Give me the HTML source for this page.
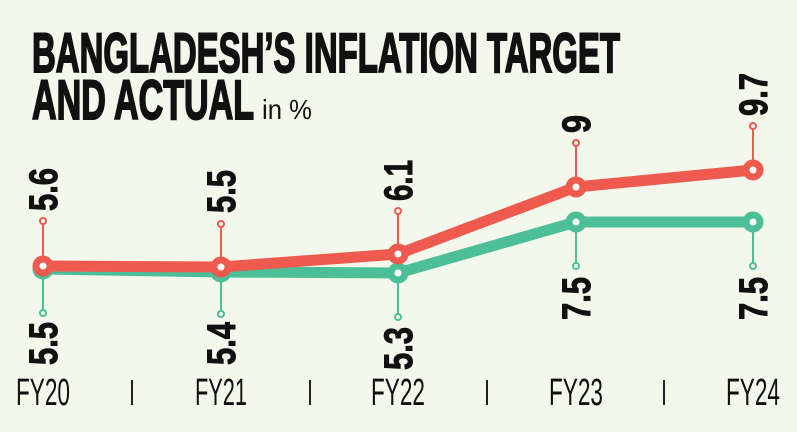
<!DOCTYPE html>
<html><head><meta charset="utf-8"><style>
html,body{margin:0;padding:0;background:#f3f7ec;}
svg{display:block}
</style></head><body>
<svg width="797" height="432" viewBox="0 0 797 432" xmlns="http://www.w3.org/2000/svg">
<rect width="797" height="432" fill="#f3f7ec"/>
<g font-family="Liberation Sans, sans-serif" font-weight="bold" fill="#111" stroke="#111" stroke-width="2">
<text x="32" y="72" font-size="56" textLength="588" lengthAdjust="spacingAndGlyphs">BANGLADESH’S INFLATION TARGET</text>
<text x="32" y="119" font-size="56" textLength="222" lengthAdjust="spacingAndGlyphs">AND ACTUAL</text>
</g>
<text x="262" y="119" font-family="Liberation Sans, sans-serif" font-size="28" fill="#111" textLength="50" lengthAdjust="spacingAndGlyphs">in %</text>

<g stroke-width="2" fill="#f3f7ec">
<g stroke="#ef5a4e">
<line x1="43" y1="266" x2="43" y2="221"/><circle cx="43" cy="221" r="3"/>
<line x1="221" y1="267" x2="221" y2="224"/><circle cx="221" cy="224" r="3"/>
<line x1="398" y1="254" x2="398" y2="211"/><circle cx="398" cy="211" r="3"/>
<line x1="576" y1="187" x2="576" y2="143"/><circle cx="576" cy="143" r="3"/>
<line x1="753" y1="170" x2="753" y2="126"/><circle cx="753" cy="126" r="3"/>
</g>
<g stroke="#4cbf98">
<line x1="43" y1="269" x2="43" y2="313"/><circle cx="43" cy="313" r="3"/>
<line x1="221" y1="272" x2="221" y2="314"/><circle cx="221" cy="314" r="3"/>
<line x1="398" y1="273" x2="398" y2="317"/><circle cx="398" cy="317" r="3"/>
<line x1="576" y1="222" x2="576" y2="266"/><circle cx="576" cy="266" r="3"/>
<line x1="753" y1="222" x2="753" y2="266"/><circle cx="753" cy="266" r="3"/>
</g>
</g>

<polyline points="43,269 221,272 398,273 576,222 753,222" fill="none" stroke="#4cbf98" stroke-width="11" stroke-linejoin="round"/>
<g fill="#fff" stroke="#4cbf98" stroke-width="7">
<circle cx="43" cy="269" r="7"/><circle cx="221" cy="272" r="7"/><circle cx="398" cy="273" r="7"/><circle cx="576" cy="222" r="7"/><circle cx="753" cy="222" r="7"/>
</g>
<polyline points="43,266 221,267 398,254 576,187 753,170" fill="none" stroke="#ef5a4e" stroke-width="11" stroke-linejoin="round"/>
<g fill="#fff" stroke="#ef5a4e" stroke-width="7">
<circle cx="43" cy="266" r="7"/><circle cx="221" cy="267" r="7"/><circle cx="398" cy="254" r="7"/><circle cx="576" cy="187" r="7"/><circle cx="753" cy="170" r="7"/>
</g>

<g font-family="Liberation Sans, sans-serif" font-weight="bold" font-size="40" fill="#111" stroke="#111" stroke-width="1">
<text transform="translate(57,211) rotate(-90)" textLength="43" lengthAdjust="spacingAndGlyphs">5.6</text>
<text transform="translate(235,213) rotate(-90)" textLength="43" lengthAdjust="spacingAndGlyphs">5.5</text>
<text transform="translate(412,201) rotate(-90)" textLength="41" lengthAdjust="spacingAndGlyphs">6.1</text>
<text transform="translate(590,133) rotate(-90)" textLength="18" lengthAdjust="spacingAndGlyphs">9</text>
<text transform="translate(767,116) rotate(-90)" textLength="43" lengthAdjust="spacingAndGlyphs">9.7</text>
<text transform="translate(57,365) rotate(-90)" textLength="43" lengthAdjust="spacingAndGlyphs">5.5</text>
<text transform="translate(235,365) rotate(-90)" textLength="43" lengthAdjust="spacingAndGlyphs">5.4</text>
<text transform="translate(412,370) rotate(-90)" textLength="43" lengthAdjust="spacingAndGlyphs">5.3</text>
<text transform="translate(590,320) rotate(-90)" textLength="43" lengthAdjust="spacingAndGlyphs">7.5</text>
<text transform="translate(767,320) rotate(-90)" textLength="43" lengthAdjust="spacingAndGlyphs">7.5</text>
</g>

<g font-family="Liberation Sans, sans-serif" font-size="38" fill="#111" text-anchor="middle">
<text x="43" y="405" textLength="54" lengthAdjust="spacingAndGlyphs">FY20</text>
<text x="221" y="405" textLength="52" lengthAdjust="spacingAndGlyphs">FY21</text>
<text x="398" y="405" textLength="54" lengthAdjust="spacingAndGlyphs">FY22</text>
<text x="576" y="405" textLength="54" lengthAdjust="spacingAndGlyphs">FY23</text>
<text x="753" y="405" textLength="54" lengthAdjust="spacingAndGlyphs">FY24</text>
</g>
<g stroke="#222" stroke-width="2">
<line x1="132" y1="380" x2="132" y2="405"/>
<line x1="310" y1="380" x2="310" y2="405"/>
<line x1="487" y1="380" x2="487" y2="405"/>
<line x1="664" y1="380" x2="664" y2="405"/>
</g>
</svg>
</body></html>
